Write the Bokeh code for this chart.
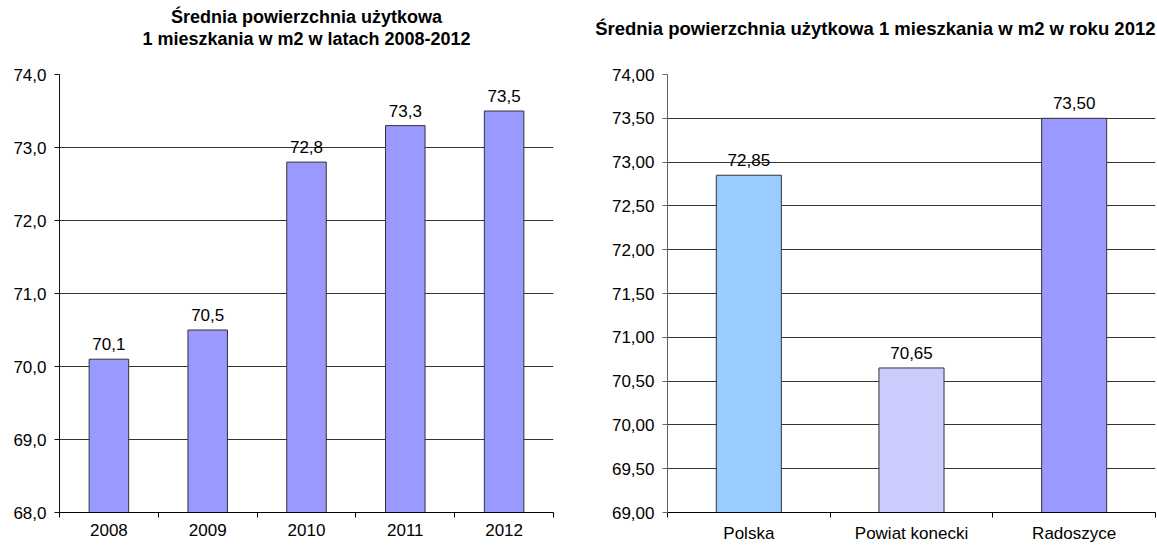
from bokeh.plotting import figure
from bokeh.layouts import row
from bokeh.models import (ColumnDataSource, FixedTicker, CustomJSTickFormatter,
                          Range1d, Title)
from bokeh.core.properties import value
from bokeh.embed import file_html
from bokeh.resources import INLINE

# ---- data ----
years = ["2008", "2009", "2010", "2011", "2012"]
area_years = [70.1, 70.5, 72.8, 73.3, 73.5]

regions = ["Polska", "Powiat konecki", "Radoszyce"]
area_regions = [72.85, 70.65, 73.50]
region_colors = ["#99CCFF", "#CCCCFF", "#9999FF"]

title_left_lines = ["Średnia powierzchnia użytkowa", "1 mieszkania w m2 w latach 2008-2012"]
title_right_lines = ["Średnia powierzchnia użytkowa 1 mieszkania w m2 w roku 2012"]

FONT = "Liberation Sans"
FS = "17px"
H = 547
TOP = 74
BOTTOM = 35


def make_chart(cats, vals, colors, ymin, ymax, ystep, decimals, width,
               bl, br, title_lines, gap, title_size, title_align, yaxis_color):
    n = len(cats)
    centers = [i + 0.5 for i in range(n)]
    bounds = [float(i) for i in range(n + 1)]
    labels = [f"{v:.{decimals}f}".replace(".", ",") for v in vals]
    src = ColumnDataSource(dict(x=centers, top=vals, color=colors, label=labels))

    p = figure(width=width, height=H, output_backend="svg", toolbar_location=None,
               x_range=Range1d(0, n), y_range=Range1d(ymin, ymax),
               min_border_left=bl, min_border_right=br, min_border_top=TOP,
               min_border_bottom=BOTTOM)
    p.outline_line_color = None
    p.background_fill_color = "white"
    p.border_fill_color = "white"

    p.vbar(x="x", top="top", bottom=ymin, width=0.4, source=src,
           fill_color="color", line_color="#333333", line_width=1)
    p.text(x="x", y="top", text="label", source=src, text_align="center",
           text_baseline="bottom", y_offset=-9, text_font=value(FONT),
           text_font_size=FS, text_color="black")

    # x axis: labels at category centres, tick marks at category boundaries
    xa = p.xaxis[0]
    xa.ticker = FixedTicker(ticks=centers, minor_ticks=bounds)
    xa.major_label_overrides = {c: cat for c, cat in zip(centers, cats)}
    xa.major_tick_out = 0
    xa.major_tick_in = 0
    xa.minor_tick_out = 5
    xa.minor_tick_in = 0
    xa.minor_tick_line_color = "black"
    xa.axis_line_color = "black"
    xa.major_label_text_font = FONT
    xa.major_label_text_font_size = FS
    xa.major_label_text_color = "black"
    xa.major_label_standoff = 6

    # y axis
    ticks = []
    t = ymin
    while t <= ymax + 1e-9:
        ticks.append(round(t, 4))
        t += ystep
    ya = p.yaxis[0]
    ya.ticker = FixedTicker(ticks=ticks)
    ya.formatter = CustomJSTickFormatter(
        code=f"return tick.toFixed({decimals}).replace('.', ',');")
    ya.major_tick_out = 5
    ya.major_tick_in = 0
    ya.minor_tick_out = 0
    ya.minor_tick_in = 0
    ya.axis_line_color = yaxis_color
    ya.major_tick_line_color = yaxis_color
    ya.major_label_text_font = FONT
    ya.major_label_text_font_size = FS
    ya.major_label_text_color = "black"
    ya.major_label_standoff = 8

    p.xgrid.grid_line_color = None
    p.ygrid.ticker = FixedTicker(ticks=ticks)
    p.ygrid.grid_line_color = "#333333"
    p.ygrid.grid_line_width = 1

    # spacer between frame and title block, then the title lines (nearest first)
    p.add_layout(Title(text=" ", text_font_size="1px", standoff=gap), "above")
    for line in reversed(title_lines):
        p.add_layout(Title(text=line, align=title_align, text_font=FONT,
                           text_font_size=title_size, text_font_style="bold",
                           text_color="black", standoff=0), "above")
    return p


left = make_chart(years, area_years, ["#9999FF"] * len(years), 68.0, 74.0, 1.0, 1,
                  580, 59, 27, title_left_lines, 23, "18px", "center", "#111111")
right = make_chart(regions, area_regions, region_colors, 69.0, 74.0, 0.5, 2,
                   577, 87, 2, title_right_lines, 33, "18.5px", "right", "#666666")

layout = row(left, right)
open("out.html", "w").write(file_html(layout, INLINE))
